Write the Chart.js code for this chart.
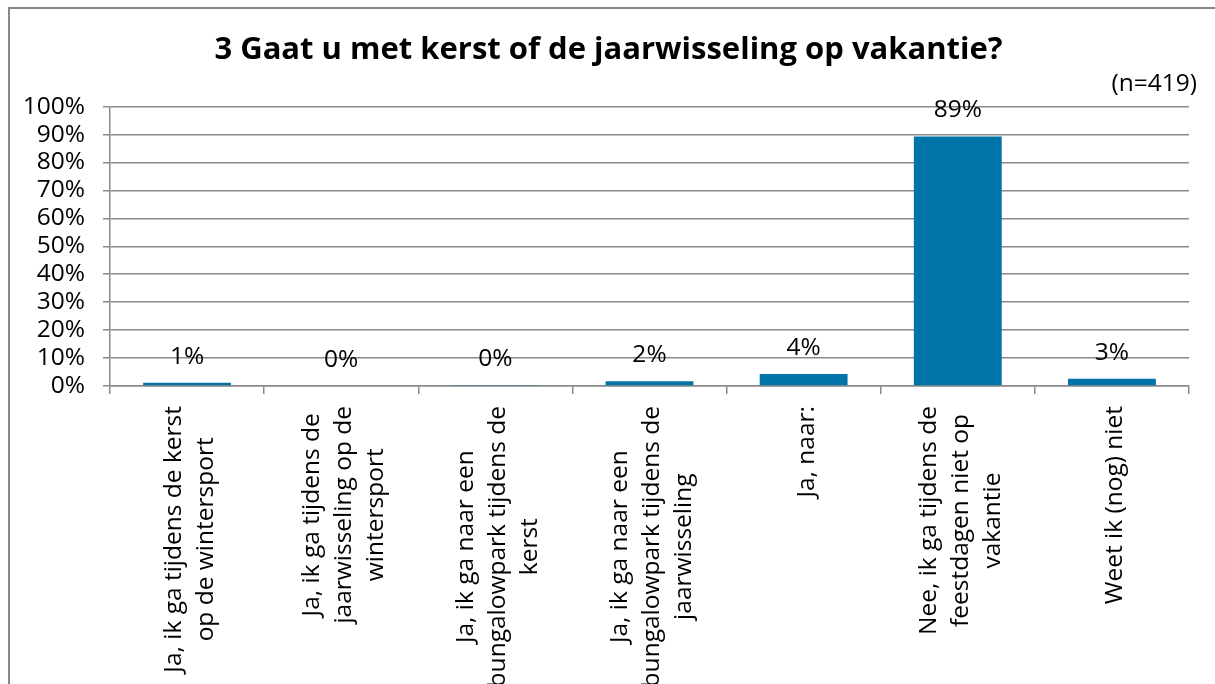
<!DOCTYPE html>
<html>
<head>
<meta charset="utf-8">
<title>3 Gaat u met kerst of de jaarwisseling op vakantie?</title>
<script src="https://cdn.jsdelivr.net/npm/chart.js@4.4.1/dist/chart.umd.min.js"></script>
<style>
	body { margin: 0; background: #fff; }
	canvas { display: block; }
</style>
</head>
<body>
<canvas id="chart-section" width="1215" height="684"></canvas>
<script>
	var categorias = [
		["Ja, ik ga tijdens de kerst", "op de wintersport"],
		["Ja, ik ga tijdens de", "jaarwisseling op de", "wintersport"],
		["Ja, ik ga naar een", "bungalowpark tijdens de", "kerst"],
		["Ja, ik ga naar een", "bungalowpark tijdens de", "jaarwisseling"],
		["Ja, naar:"],
		["Nee, ik ga tijdens de", "feestdagen niet op", "vakantie"],
		["Weet ik (nog) niet"]
	];
	var porcentajes = [1.2, 0, 0.2, 1.7, 4.3, 89.3, 2.6];
	var titulo = "3 Gaat u met kerst of de jaarwisseling op vakantie?";
	var subtitulo = "(n=419)";

	var gris = "#8a8a8a";
	var fuente = "'Open Sans', sans-serif";
	var tam = 24.5;

	// marco gris arriba y a la izquierda
	var marco = {
		id: "marco",
		beforeDraw: function(chart){
			var ctx = chart.ctx;
			ctx.save();
			ctx.strokeStyle = "#888888";
			ctx.lineWidth = 2;
			ctx.beginPath();
			ctx.moveTo(9, 700);
			ctx.lineTo(9, 8);
			ctx.lineTo(1230, 8);
			ctx.stroke();
			ctx.restore();
		}
	};

	// etiquetas de valor encima de las barras
	var etiquetas = {
		id: "etiquetas",
		afterDatasetsDraw: function(chart){
			var ctx = chart.ctx;
			var meta = chart.getDatasetMeta(0);
			ctx.save();
			ctx.font = tam + "px " + fuente;
			ctx.fillStyle = "#000";
			ctx.textAlign = "center";
			ctx.textBaseline = "middle";
			meta.data.forEach(function(bar, i){
				ctx.fillText(Math.round(porcentajes[i]) + "%", bar.x, bar.y - 26);
			});
			ctx.restore();
		}
	};

	// etiquetas de categoria giradas, lineas centradas
	var categoriasEje = {
		id: "categoriasEje",
		afterDraw: function(chart){
			var ctx = chart.ctx;
			var eje = chart.scales.x;
			var alto = 32;
			ctx.save();
			ctx.font = tam + "px " + fuente;
			ctx.fillStyle = "#000";
			ctx.textAlign = "center";
			ctx.textBaseline = "middle";
			categorias.forEach(function(lineas, i){
				var ancho = 0;
				lineas.forEach(function(l){ ancho = Math.max(ancho, ctx.measureText(l).width); });
				var x = eje.getPixelForTick(i) + 3;
				var y = eje.top + 20 + ancho / 2;
				ctx.save();
				ctx.translate(x, y);
				ctx.rotate(-Math.PI / 2);
				lineas.forEach(function(l, j){
					ctx.fillText(l, 0, (j - (lineas.length - 1) / 2) * alto);
				});
				ctx.restore();
			});
			ctx.restore();
		}
	};

	var canvas = document.getElementById("chart-section").getContext("2d");
	window.barras = new Chart(canvas, {
		type: "bar",
		data: {
			labels: categorias,
			datasets: [{
				data: porcentajes,
				backgroundColor: "#0073a9",
				categoryPercentage: 1,
				barPercentage: 0.57
			}]
		},
		options: {
			responsive: false,
			animation: false,
			layout: { padding: { left: 20, right: 18, top: 0, bottom: 0 } },
			plugins: {
				legend: { display: false },
				tooltip: { enabled: false },
				title: {
					display: true,
					text: titulo,
					color: "#000",
					font: { family: fuente, size: 31, weight: "bold" },
					padding: { top: 32, bottom: 0 }
				},
				subtitle: {
					display: true,
					text: subtitulo,
					align: "end",
					color: "#000",
					font: { family: fuente, size: tam },
					padding: { top: 0, bottom: 8 }
				}
			},
			scales: {
				x: {
					ticks: { display: false },
					grid: { drawOnChartArea: false, color: gris, lineWidth: 1.5, tickLength: 8, offset: true },
					border: { color: gris, width: 1.5 },
					afterFit: function(s){ s.height = 298; }
				},
				y: {
					min: 0,
					max: 100,
					ticks: {
						stepSize: 10,
						autoSkip: false,
						padding: 18,
						color: "#000",
						font: { family: fuente, size: tam },
						callback: function(v){ return v + "%"; }
					},
					grid: { color: gris, lineWidth: 1.5, tickLength: 7 },
					border: { color: gris, width: 1.5 },
					afterFit: function(s){ s.width = 90; }
				},
				derecha: {
					position: "right",
					ticks: { display: false },
					grid: { display: false },
					border: { display: false },
					afterFit: function(s){ s.width = 8; }
				}
			}
		},
		plugins: [marco, etiquetas, categoriasEje]
	});
</script>
</body>
</html>
